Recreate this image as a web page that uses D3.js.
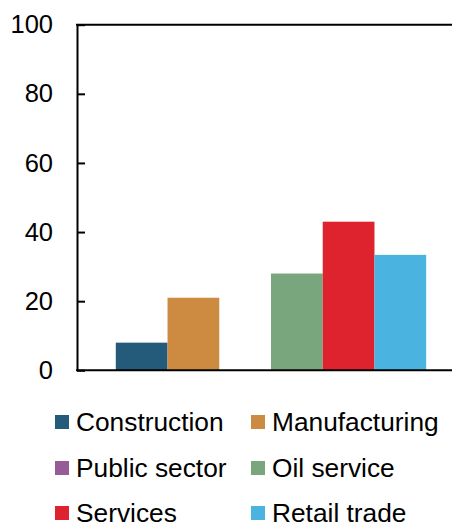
<!DOCTYPE html>
<html>
<head>
<meta charset="utf-8">
<script src="https://cdn.jsdelivr.net/npm/d3@7/dist/d3.min.js"></script>
<style>
  html, body { margin: 0; padding: 0; background: #fff; }
  svg { display: block; font-family: "Liberation Sans", Arial, sans-serif; }
</style>
</head>
<body>
<svg id="chart" width="452" height="522"></svg>
<script>
// Share of firms by sector (%)
const categories = [""];
const sectors = ["Construction", "Manufacturing", "Public sector", "Oil service", "Services", "Retail trade"];
const values = [8, 21, 0, 28, 43, 33.4];
const colors = ["#245A7A", "#CD8B41", "#955C97", "#7AA67D", "#DE222E", "#4AB3E0"];
const yTicks = [0, 20, 40, 60, 80, 100];

const svg = d3.select("#chart");
const plot = { left: 77, right: 465, top: 24.7, bottom: 370.3 };

const y = d3.scaleLinear().domain([0, 100]).range([plot.bottom, plot.top]);

// One category; bars are grouped inside it with a 150% gap width
const x0 = d3.scaleBand().domain(categories)
  .range([plot.left, plot.right])
  .paddingInner(0).paddingOuter(0.125);
const x1 = d3.scaleBand().domain(sectors).range([0, x0.bandwidth()]).padding(0);
const color = d3.scaleOrdinal().domain(sectors).range(colors);

const rows = sectors.map((s, i) => ({ sector: s, value: values[i], cat: categories[0] }));

svg.append("g")
  .selectAll("rect")
  .data(rows)
  .join("rect")
  .attr("x", d => x0(d.cat) + x1(d.sector))
  .attr("y", d => y(d.value))
  .attr("width", x1.bandwidth())
  .attr("height", d => y(0) - y(d.value))
  .attr("fill", d => color(d.sector));

// Y axis with inward ticks
const yAxis = svg.append("g")
  .attr("transform", `translate(${plot.left},0)`)
  .call(d3.axisLeft(y).tickValues(yTicks).tickSizeInner(-8).tickSizeOuter(0).tickPadding(24));
yAxis.select(".domain").attr("stroke", "#000").attr("stroke-width", 2);
yAxis.selectAll(".tick line").attr("stroke", "#000").attr("stroke-width", 2);
yAxis.selectAll(".tick text")
  .attr("fill", "#000")
  .style("font-size", "25.5px")
  .style("font-family", "'Liberation Sans', Arial, sans-serif");

// Baseline and top frame line
svg.append("line")
  .attr("x1", plot.left - 1).attr("x2", plot.right)
  .attr("y1", y(0)).attr("y2", y(0))
  .attr("stroke", "#000").attr("stroke-width", 2);
svg.append("line")
  .attr("x1", plot.left - 1).attr("x2", plot.right)
  .attr("y1", y(100)).attr("y2", y(100))
  .attr("stroke", "#000").attr("stroke-width", 2);

// Legend: two columns, three rows
const legend = svg.append("g");
const colX = [55, 251];
const rowY = [415, 461, 506];
const item = legend.selectAll("g")
  .data(sectors)
  .join("g")
  .attr("transform", (d, i) => `translate(${colX[i % 2]},${rowY[Math.floor(i / 2)]})`);
item.append("rect")
  .attr("width", 14).attr("height", 14)
  .attr("fill", d => color(d));
item.append("text")
  .attr("x", 21)
  .attr("y", 15.8)
  .attr("fill", "#000")
  .style("font-size", "26.3px")
  .text(d => d);
</script>
</body>
</html>
